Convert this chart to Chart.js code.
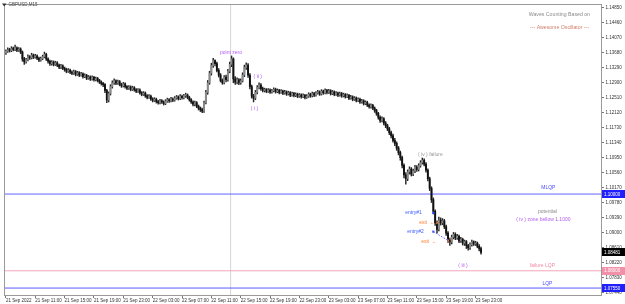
<!DOCTYPE html>
<html><head><meta charset="utf-8">
<script src="https://cdn.jsdelivr.net/npm/chart.js@4.4.0/dist/chart.umd.min.js"></script>
<style>html,body{margin:0;padding:0;background:#fff;overflow:hidden}canvas{display:block}</style>
</head><body>
<canvas id="c" width="625" height="304"></canvas>
<script>
// ---- DATA: GBPUSD M15, 21 Sep 2022 07:00 .. 23 Sep 2022 23:45 ----
const symbolTitle = "GBPUSD,M15";
const firstOpen = 1.1368;
const closes = [
1.1372,1.1376,1.1374,1.1379,1.1377,1.1381,1.1375,1.1378,1.1370,1.1352,
1.1345,1.1350,1.1358,1.1355,1.1362,1.1357,1.1360,1.1354,1.1349,1.1353,
1.1358,1.1364,1.1352,1.1346,1.1340,1.1344,1.1338,1.1342,1.1336,1.1331,
1.1334,1.1328,1.1325,1.1320,1.1323,1.1318,1.1315,1.1319,1.1312,1.1316,
1.1310,1.1313,1.1306,1.1309,1.1302,1.1305,1.1300,1.1304,1.1298,1.1301,
1.1296,1.1292,1.1288,1.1285,1.1270,1.1245,1.1262,1.1280,1.1290,1.1295,
1.1289,1.1293,1.1286,1.1282,1.1287,1.1280,1.1276,1.1279,1.1273,1.1277,
1.1272,1.1268,1.1271,1.1264,1.1260,1.1263,1.1256,1.1252,1.1255,1.1248,
1.1244,1.1247,1.1241,1.1238,1.1243,1.1240,1.1236,1.1242,1.1246,1.1243,
1.1248,1.1245,1.1250,1.1253,1.1249,1.1255,1.1251,1.1256,1.1258,1.1252,
1.1246,1.1240,1.1234,1.1238,1.1229,1.1224,1.1220,1.1216,1.1238,1.1265,
1.1290,1.1315,1.1335,1.1348,1.1340,1.1322,1.1310,1.1296,1.1290,1.1305,
1.1298,1.1320,1.1338,1.1352,1.1300,1.1292,1.1298,1.1290,1.1295,1.1310,
1.1330,1.1336,1.1310,1.1280,1.1255,1.1250,1.1265,1.1278,1.1284,1.1275,
1.1270,1.1272,1.1268,1.1271,1.1266,1.1269,1.1273,1.1267,1.1270,1.1265,
1.1268,1.1263,1.1266,1.1261,1.1264,1.1258,1.1262,1.1257,1.1260,1.1255,
1.1258,1.1254,1.1257,1.1252,1.1255,1.1260,1.1256,1.1262,1.1258,1.1263,
1.1266,1.1261,1.1268,1.1264,1.1270,1.1265,1.1269,1.1262,1.1266,1.1260,
1.1263,1.1258,1.1262,1.1256,1.1259,1.1254,1.1257,1.1250,1.1253,1.1247,
1.1250,1.1244,1.1247,1.1240,1.1243,1.1236,1.1239,1.1232,1.1228,1.1231,
1.1224,1.1218,1.1210,1.1200,1.1192,1.1196,1.1185,1.1178,1.1170,1.1160,
1.1152,1.1140,1.1132,1.1120,1.1108,1.1095,1.1075,1.1050,1.1040,1.1058,
1.1065,1.1052,1.1060,1.1070,1.1064,1.1074,1.1082,1.1088,1.1078,1.1062,
1.1040,1.1015,1.0985,1.0955,1.0925,1.0908,1.0932,1.0925,1.0930,1.0915,
1.0898,1.0880,1.0875,1.0888,1.0895,1.0886,1.0890,1.0878,1.0882,1.0872,
1.0876,1.0866,1.0860,1.0868,1.0875,1.0870,1.0872,1.0864,1.0858,1.08481
];
const highs = [
1.1376,1.1381,1.1380,1.1384,1.1383,1.1388,1.1384,1.1382,1.1381,1.1373,
1.1356,1.1354,1.1363,1.1361,1.1367,1.1365,1.1364,1.1363,1.1357,1.1357,
1.1362,1.1370,1.1367,1.1355,1.1349,1.1348,1.1347,1.1346,1.1345,1.1339,
1.1338,1.1337,1.1331,1.1328,1.1327,1.1326,1.1321,1.1323,1.1322,1.1320,
1.1319,1.1317,1.1316,1.1313,1.1312,1.1309,1.1308,1.1308,1.1307,1.1305,
1.1304,1.1299,1.1295,1.1291,1.1288,1.1273,1.1266,1.1285,1.1295,1.1300,
1.1298,1.1297,1.1296,1.1289,1.1291,1.1290,1.1283,1.1283,1.1282,1.1281,
1.1280,1.1275,1.1275,1.1274,1.1267,1.1267,1.1266,1.1259,1.1259,1.1258,
1.1251,1.1251,1.1250,1.1244,1.1247,1.1246,1.1243,1.1246,1.1250,1.1249,
1.1252,1.1251,1.1254,1.1257,1.1256,1.1259,1.1258,1.1260,1.1263,1.1261,
1.1255,1.1249,1.1243,1.1242,1.1241,1.1232,1.1227,1.1224,1.1242,1.1270,
1.1296,1.1320,1.1341,1.1354,1.1350,1.1344,1.1327,1.1314,1.1300,1.1309,
1.1310,1.1325,1.1344,1.1360,1.1355,1.1306,1.1303,1.1301,1.1300,1.1316,
1.1336,1.1342,1.1340,1.1314,1.1284,1.1260,1.1270,1.1283,1.1290,1.1288,
1.1279,1.1276,1.1275,1.1275,1.1274,1.1273,1.1277,1.1276,1.1274,1.1273,
1.1272,1.1271,1.1270,1.1269,1.1268,1.1267,1.1266,1.1265,1.1264,1.1263,
1.1262,1.1261,1.1261,1.1260,1.1259,1.1264,1.1263,1.1266,1.1265,1.1267,
1.1270,1.1269,1.1272,1.1271,1.1274,1.1273,1.1273,1.1272,1.1270,1.1269,
1.1267,1.1266,1.1266,1.1265,1.1263,1.1262,1.1261,1.1260,1.1257,1.1256,
1.1254,1.1253,1.1251,1.1250,1.1247,1.1246,1.1243,1.1242,1.1235,1.1235,
1.1234,1.1227,1.1221,1.1213,1.1204,1.1201,1.1199,1.1189,1.1182,1.1174,
1.1164,1.1156,1.1145,1.1136,1.1124,1.1112,1.1099,1.1079,1.1056,1.1063,
1.1071,1.1069,1.1065,1.1075,1.1074,1.1079,1.1087,1.1094,1.1092,1.1082,
1.1066,1.1044,1.1019,1.0990,1.0959,1.0930,1.0940,1.0938,1.0936,1.0934,
1.0919,1.0902,1.0885,1.0893,1.0900,1.0899,1.0895,1.0893,1.0887,1.0885,
1.0880,1.0879,1.0869,1.0873,1.0880,1.0878,1.0877,1.0875,1.0868,1.0862
];
const lows = [
1.1364,1.1369,1.1370,1.1371,1.1373,1.1374,1.1371,1.1372,1.1366,1.1346,
1.1338,1.1341,1.1347,1.1351,1.1352,1.1353,1.1354,1.1350,1.1345,1.1346,
1.1350,1.1355,1.1348,1.1341,1.1335,1.1336,1.1334,1.1335,1.1332,1.1327,
1.1327,1.1324,1.1320,1.1316,1.1317,1.1314,1.1311,1.1312,1.1308,1.1309,
1.1306,1.1307,1.1302,1.1303,1.1298,1.1299,1.1296,1.1297,1.1294,1.1295,
1.1292,1.1288,1.1284,1.1280,1.1264,1.1238,1.1240,1.1258,1.1276,1.1286,
1.1285,1.1286,1.1282,1.1278,1.1279,1.1276,1.1272,1.1273,1.1269,1.1270,
1.1268,1.1264,1.1265,1.1260,1.1256,1.1257,1.1252,1.1248,1.1249,1.1244,
1.1240,1.1241,1.1237,1.1234,1.1235,1.1236,1.1232,1.1233,1.1239,1.1239,
1.1240,1.1241,1.1242,1.1247,1.1245,1.1246,1.1247,1.1248,1.1252,1.1248,
1.1242,1.1236,1.1230,1.1230,1.1225,1.1219,1.1215,1.1212,1.1213,1.1235,
1.1260,1.1286,1.1310,1.1330,1.1334,1.1318,1.1305,1.1292,1.1286,1.1287,
1.1292,1.1294,1.1316,1.1332,1.1290,1.1286,1.1287,1.1285,1.1286,1.1292,
1.1306,1.1325,1.1304,1.1274,1.1250,1.1240,1.1246,1.1261,1.1274,1.1270,
1.1266,1.1266,1.1264,1.1265,1.1262,1.1263,1.1266,1.1263,1.1264,1.1261,
1.1262,1.1259,1.1260,1.1257,1.1258,1.1254,1.1255,1.1253,1.1254,1.1251,
1.1252,1.1250,1.1251,1.1248,1.1249,1.1252,1.1252,1.1253,1.1254,1.1255,
1.1260,1.1257,1.1258,1.1260,1.1261,1.1261,1.1262,1.1258,1.1259,1.1256,
1.1257,1.1254,1.1255,1.1252,1.1253,1.1250,1.1251,1.1246,1.1247,1.1243,
1.1244,1.1240,1.1241,1.1236,1.1237,1.1232,1.1233,1.1228,1.1224,1.1224,
1.1220,1.1213,1.1205,1.1195,1.1187,1.1188,1.1180,1.1173,1.1165,1.1155,
1.1146,1.1135,1.1126,1.1114,1.1102,1.1088,1.1068,1.1042,1.1026,1.1035,
1.1052,1.1047,1.1048,1.1056,1.1059,1.1060,1.1070,1.1078,1.1073,1.1057,
1.1034,1.1009,1.0978,1.0948,1.0918,1.0898,1.0904,1.0919,1.0920,1.0910,
1.0892,1.0874,1.0866,1.0870,1.0883,1.0881,1.0882,1.0873,1.0874,1.0867,
1.0866,1.0858,1.0854,1.0856,1.0864,1.0866,1.0866,1.0860,1.0852,1.0843
];
const xTickLabels = ["21 Sep 2022","21 Sep 11:00","21 Sep 15:00","21 Sep 19:00","21 Sep 23:00",
  "22 Sep 03:00","22 Sep 07:00","22 Sep 11:00","22 Sep 15:00","22 Sep 19:00","22 Sep 23:00",
  "23 Sep 03:00","23 Sep 07:00","23 Sep 11:00","23 Sep 15:00","23 Sep 19:00","23 Sep 23:00"];
const barsPerXTick = 16;
const yTickValues = [1.14850,1.14460,1.14070,1.13680,1.13290,1.12900,1.12510,1.12120,1.11730,1.11340,
  1.10950,1.10560,1.10170,1.09780,1.09390,1.09000,1.08610,1.08220,1.07830,1.07440];
const levelNames  = ["MLQP","failure LQP","LQP"];
const levelValues = [1.10000, 1.08000, 1.07550];
const lastPrice = 1.08481;
const separatorBar = 122.5;        // vertical line near 22 Sep 13:45
const entryBars   = [233, 233];
const entryPrices = [1.0951, 1.0902];
const exitBars    = [235.2, 241.1];
const exitPrices  = [1.0925, 1.0879];

// ---- styles / layout ----
const Y_MIN = 1.07369, Y_MAX = 1.14927;
const X_MIN = -0.5, X_MAX = 324.4;
const PURPLE = '#b25cf0', BLUE = '#4b4bff', PINK = '#f08aa6', ORANGE = '#ff7a30', GRAY = '#8a8a8a';
const levelLineColors = ['#6464ff', '#f3a6bc', '#5a5aff'];
const levelBoxColors  = ['#2020ff', '#f290aa', '#2020ff'];

const opens = closes.map((c, i) => i === 0 ? firstOpen : closes[i - 1]);

const notes = [
  {t:'point zero', i:122.7, p:1.1369, c:PURPLE},
  {t:'( ii )', i:137.3, p:1.1307, c:PURPLE},
  {t:'( i )', i:135.5, p:1.1222, c:PURPLE},
  {t:'( iv ) failure', i:231.4, p:1.1103, c:'#999'},
  {t:'entry#1', i:222.2, p:1.0951, c:'#3d5cff'},
  {t:'entry#2', i:223.3, p:1.0902, c:'#3d5cff'},
  {t:'exit  \u2190', i:229.5, p:1.0925, c:ORANGE},
  {t:'exit  \u2190', i:230.6, p:1.0877, c:ORANGE},
  {t:'( iii )', i:249.2, p:1.0814, c:PURPLE},
  {t:'MLQP', i:295.7, p:1.10155, c:BLUE},
  {t:'potential', i:295.2, p:1.09536, c:GRAY},
  {t:'( iv ) zone bellow 1.1000', i:293.0, p:1.09329, c:PURPLE},
  {t:'failure LQP', i:292.5, p:1.08142, c:PINK},
  {t:'LQP', i:295.2, p:1.07678, c:BLUE}
];

const FONT = '"Liberation Sans", Arial, sans-serif';

const overlay = {
  id: 'overlay',
  afterDraw(chart) {
    const {ctx, chartArea: a, scales: {x, y}} = chart;
    ctx.save();
    ctx.strokeStyle = '#9a9a9a'; ctx.lineWidth = 1;
    ctx.strokeRect(Math.round(a.left) - 0.5, Math.round(a.top) - 0.5, Math.round(a.right - a.left) + 1, Math.round(a.bottom - a.top) + 1);
    ctx.fillStyle = '#333';
    ctx.beginPath(); ctx.moveTo(2, 3.5); ctx.lineTo(6.5, 3.5); ctx.lineTo(4.25, 6.5); ctx.closePath(); ctx.fill();
    ctx.font = '4.5px ' + FONT; ctx.textBaseline = 'middle'; ctx.textAlign = 'left';
    ctx.fillStyle = '#444';
    ctx.fillText(symbolTitle, 8.5, 5.2);
    ctx.font = '5.2px ' + FONT; ctx.textAlign = 'right';
    ctx.fillStyle = '#8c8c8c';
    ctx.fillText('Waves Counting Based on', a.right - 11, 15);
    ctx.fillStyle = '#d0806c';
    ctx.fillText('--- Awesome Oscillator ---', a.right - 12, 28);
    ctx.font = '5px ' + FONT; ctx.textAlign = 'center';
    notes.forEach(n => {
      ctx.fillStyle = n.c;
      ctx.fillText(n.t, x.getPixelForValue(n.i), y.getPixelForValue(n.p));
    });
    ctx.font = '4.5px ' + FONT; ctx.textAlign = 'left';
    const boxes = levelValues.map((v, k) => ({v, bg: levelBoxColors[k]})).concat([{v: lastPrice, bg: '#000'}]);
    boxes.forEach(b => {
      const py = y.getPixelForValue(b.v);
      ctx.fillStyle = b.bg;
      ctx.fillRect(a.right + 1, Math.round(py) - 4, 23, 8);
      ctx.fillStyle = '#fff';
      ctx.fillText(b.v.toFixed(5), a.right + 3, py + 0.3);
    });
    ctx.restore();
  }
};

const lineDs = (pts, color, extra) => Object.assign({
  type: 'line', data: pts, borderColor: color, borderWidth: 1, pointRadius: 0,
  fill: false, tension: 0, order: 5
}, extra || {});

const datasets = [
  {type: 'bar', label: 'wick', data: closes.map((c, i) => ({x: i, y: [lows[i], highs[i]]})),
   backgroundColor: '#262626', barThickness: 0.8, grouped: false, order: 2},
  {type: 'bar', label: 'body', data: closes.map((c, i) => ({x: i, y: [opens[i], c]})),
   backgroundColor: ctx => { const i = ctx.dataIndex; return closes[i] >= opens[i] ? '#8a8a8a' : '#111'; },
   barThickness: 1.25, minBarLength: 1, grouped: false, order: 1},
  ...levelValues.map((v, k) => lineDs([{x: X_MIN, y: v}, {x: X_MAX, y: v}], levelLineColors[k])),
  lineDs([{x: separatorBar, y: Y_MIN}, {x: separatorBar, y: Y_MAX}], '#d4d4d4', {order: 6}),
  lineDs([{x: entryBars[1], y: entryPrices[1]}, {x: exitBars[1], y: exitPrices[1]}], '#5b6bff', {borderDash: [1.5, 1.5], order: 0}),
  {type: 'line', label: 'entries', data: entryBars.map((b, k) => ({x: b, y: entryPrices[k]})),
   showLine: false, pointRadius: 1.5, pointStyle: 'rect', pointBackgroundColor: '#2f49ff', pointBorderWidth: 0, order: 0},
  {type: 'line', label: 'exits', data: exitBars.map((b, k) => ({x: b, y: exitPrices[k]})),
   showLine: false, pointRadius: 1.6, pointStyle: 'crossRot', pointBorderColor: ORANGE, pointBorderWidth: 1, order: 0}
];

new Chart(document.getElementById('c'), {
  type: 'bar',
  data: {datasets},
  plugins: [overlay],
  options: {
    responsive: false, animation: false, devicePixelRatio: 1,
    layout: {padding: {left: 1, top: 2, right: 0, bottom: 0}},
    plugins: {legend: {display: false}, tooltip: {enabled: false}},
    scales: {
      x: {
        type: 'linear', min: X_MIN, max: X_MAX, offset: false,
        grid: {display: true, drawOnChartArea: false, drawTicks: true, tickLength: 3, color: '#777', offset: false},
        border: {display: true, color: '#9a9a9a'},
        afterBuildTicks: s => { s.ticks = xTickLabels.map((_, k) => ({value: k * barsPerXTick})); },
        afterFit: s => { s.height = 9; },
        ticks: {
          autoSkip: false, maxRotation: 0, minRotation: 0, align: 'start', padding: 0,
          font: {size: 4.5, family: FONT}, color: '#333',
          callback: v => xTickLabels[Math.round(v / barsPerXTick)] || ''
        }
      },
      y: {
        type: 'linear', position: 'right', min: Y_MIN, max: Y_MAX,
        grid: {display: true, drawOnChartArea: false, drawTicks: true, tickLength: 3, color: '#777'},
        border: {display: true, color: '#8a8a8a', width: 1},
        afterBuildTicks: s => { s.ticks = yTickValues.map(v => ({value: v})); },
        afterFit: s => { s.width = 24; },
        ticks: {
          autoSkip: false, padding: 1.5,
          font: {size: 4.5, family: FONT}, color: '#333',
          callback: v => Number(v).toFixed(5)
        }
      }
    }
  }
});
</script>
</body></html>
